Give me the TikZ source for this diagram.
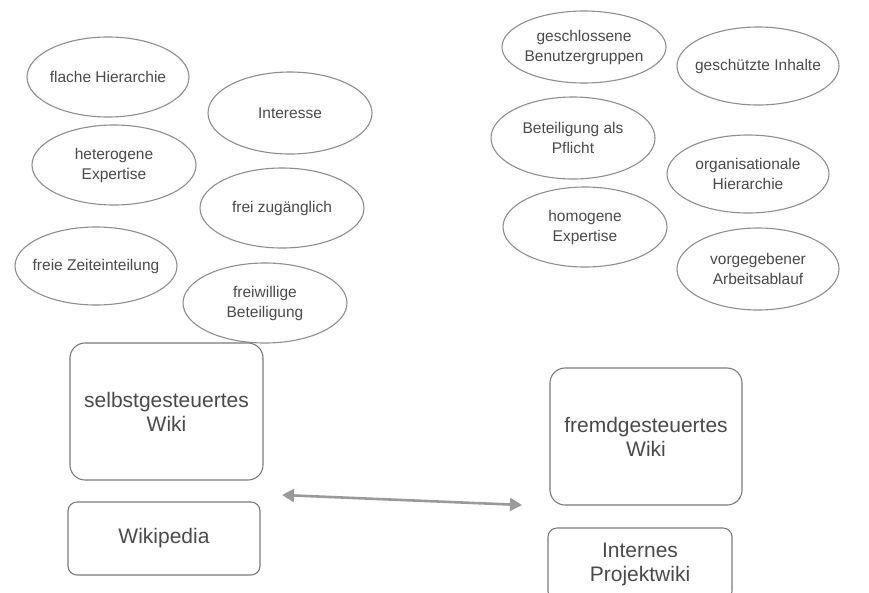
\documentclass[tikz,border=0pt]{standalone}
\usepackage{fontspec}
\setmainfont{Liberation Sans}
\usetikzlibrary{arrows.meta}
\definecolor{txt}{HTML}{4A4A4A}
\definecolor{ellc}{HTML}{8E8E8E}
\definecolor{boxc}{HTML}{7A7A7A}
\definecolor{arrc}{HTML}{9A9A9A}
\tikzset{
  etext/.style={align=center, text=txt, font=\fontsize{15.5}{20}\selectfont, inner sep=0pt},
  eline/.style={draw=ellc, line width=1.1pt},
  wbox/.style={draw=boxc, line width=1.1pt, rounded corners=15pt, align=center, text=txt,
    font=\fontsize{21}{24}\selectfont, inner sep=0pt},
  sbox/.style={wbox, rounded corners=9pt},
  arr/.style={draw=arrc, line width=2.6pt, {Triangle[length=12pt,width=13pt]}-{Triangle[length=12pt,width=13pt]}}
}
\begin{document}
\begin{tikzpicture}[x=1pt,y=-1pt]
\useasboundingbox (0,0) rectangle (869,592);
\clip (0,0) rectangle (869,592);
\fill[white] (0,0) rectangle (869,592);
% left ellipses
\node[etext] (e1) at (108,77) {flache Hierarchie};
\draw[eline] (e1.center) ellipse [x radius=81, y radius=40];
\node[etext] (e2) at (290,113) {Interesse};
\draw[eline] (e2.center) ellipse [x radius=82, y radius=41];
\node[etext] (e3) at (114,165) {heterogene\\Expertise};
\draw[eline] (e3.center) ellipse [x radius=82, y radius=40];
\node[etext] (e4) at (282,208) {frei zugänglich};
\draw[eline] (e4.center) ellipse [x radius=82, y radius=40];
\node[etext] (e5) at (96,266) {freie Zeiteinteilung};
\draw[eline] (e5.center) ellipse [x radius=81, y radius=39];
\node[etext] (e6) at (265,303) {freiwillige\\Beteiligung};
\draw[eline] (e6.center) ellipse [x radius=82, y radius=40];
% right ellipses
\node[etext] (r1) at (584,47) {geschlossene\\Benutzergruppen};
\draw[eline] (r1.center) ellipse [x radius=82, y radius=36];
\node[etext] (r2) at (758,66) {geschützte Inhalte};
\draw[eline] (r2.center) ellipse [x radius=81, y radius=39];
\node[etext] (r3) at (573,138) {Beteiligung als\\Pflicht};
\draw[eline] (r3.center) ellipse [x radius=82, y radius=41];
\node[etext] (r4) at (748,174) {organisationale\\Hierarchie};
\draw[eline] (r4.center) ellipse [x radius=81, y radius=39];
\node[etext] (r5) at (585,227) {homogene\\Expertise};
\draw[eline] (r5.center) ellipse [x radius=82, y radius=40];
\node[etext] (r6) at (758,269) {vorgegebener\\Arbeitsablauf};
\draw[eline] (r6.center) ellipse [x radius=81, y radius=41];
% boxes
\node[wbox, minimum width=193pt, minimum height=137pt] (selbst) at (166.5,411.5) {selbstgesteuertes\\Wiki};
\node[sbox, minimum width=192pt, minimum height=73pt] (wp) at (164,538.5) {Wikipedia};
\node[wbox, minimum width=192pt, minimum height=137pt] (fremd) at (646,436.5) {fremdgesteuertes\\Wiki};
\node[sbox, minimum width=184pt, minimum height=72pt] (intern) at (640,564) {Internes\\Projektwiki};
% arrow
\coordinate (aL) at (282,495);
\coordinate (aR) at (522,505);
\draw[arr] (aL) -- (aR);
\end{tikzpicture}
\end{document}
